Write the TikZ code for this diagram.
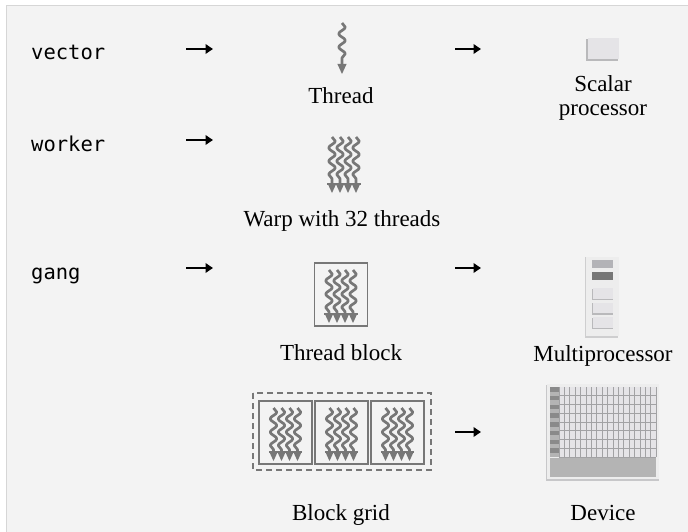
\documentclass[tikz,border=0pt]{standalone}
\usepackage{fontspec}
\setmainfont{Liberation Serif}
\newfontfamily\codefont{DejaVu Sans Mono}
\usetikzlibrary{arrows.meta,decorations.pathmorphing}
\definecolor{panel}{HTML}{F3F3F3}
\definecolor{paneledge}{HTML}{D6D6D6}
\definecolor{wavegray}{HTML}{777777}
\definecolor{procfill}{HTML}{E5E4E7}
\definecolor{procshadow}{HTML}{B9B9BB}
\definecolor{procmid}{HTML}{B3B3B7}
\definecolor{procdark}{HTML}{767676}
\definecolor{devfill}{HTML}{EDEDED}
\definecolor{devline}{HTML}{A2A2A4}
\definecolor{devband}{HTML}{B4B4B4}
\tikzset{
  code/.style={font=\codefont\fontsize{20.5}{24}\selectfont, anchor=base west, inner sep=0pt},
  lbl/.style={font=\fontsize{23}{27}\selectfont, anchor=base, inner sep=0pt},
  conn/.style={line width=2.2pt, -{Triangle[length=7.5pt,width=9.5pt]}},
  wavestroke/.style={draw=wavegray, line width=2.7pt, line join=round,
    decorate, decoration={snake, amplitude=3.3pt, segment length=13.3pt, post length=0pt}},
  boxline/.style={draw=wavegray, line width=1.5pt},
}
% one thread: wavy line from (x,y) downwards over a given length, ending in a solid head
\newcommand\threadicon[3]{%
  \pgfmathsetmacro\thx{#1}\pgfmathsetmacro\thy{#2}\pgfmathsetmacro\thl{#2+#3}%
  \draw[wavestroke] (\thx,\thy) -- (\thx,\thl);
  \fill[wavegray] (\thx-4.6,\thl) -- (\thx+4.6,\thl) -- (\thx,\thl+10) -- cycle;}
% a warp: four threads side by side
\newcommand\warpicon[3]{%
  \foreach \k in {0,1,2,3}{\threadicon{#1+8*\k-12}{#2}{#3}}
  \fill[wavegray] ({#1-16.6},{#2+#3}) rectangle ({#1+16.6},{#2+#3+2});}
% a thread block: a framed warp
\newcommand\blockicon[2]{%
  \draw[boxline] ({#1-26.5},{#2-7}) rectangle ({#1+26.5},{#2+56});
  \warpicon{#1}{#2}{43}}
\begin{document}
\begin{tikzpicture}[x=1pt,y=-1pt]
  % background panel
  \useasboundingbox (0,0) rectangle (688,532);
  \fill[white] (0,0) rectangle (688,532);
  \fill[panel] (6,5) rectangle (688,532);
  \draw[paneledge, line width=1.2pt] (6.6,532) -- (6.6,5.6) -- (688,5.6);

  % left column: keywords
  \node[code] (kvec) at (31,60) {vector};
  \node[code] (kwork) at (31,152) {worker};
  \node[code] (kgang) at (31,279) {gang};

  % arrows, first column
  \coordinate (a1s) at (186,49);  \coordinate (a1e) at (213,49);
  \coordinate (a2s) at (186,140); \coordinate (a2e) at (213,140);
  \coordinate (a3s) at (186,268); \coordinate (a3e) at (213,268);
  \draw[conn] (a1s) -- (a1e);
  \draw[conn] (a2s) -- (a2e);
  \draw[conn] (a3s) -- (a3e);

  % arrows, second column
  \coordinate (b1s) at (455,49);  \coordinate (b1e) at (481,49);
  \coordinate (b3s) at (455,268); \coordinate (b3e) at (481,268);
  \coordinate (b4s) at (455,432); \coordinate (b4e) at (481,432);
  \draw[conn] (b1s) -- (b1e);
  \draw[conn] (b3s) -- (b3e);
  \draw[conn] (b4s) -- (b4e);

  % software side
  \threadicon{342}{23}{41}
  \node[lbl] (lthread) at (341,104) {Thread};

  \warpicon{344}{137}{46}
  \node[lbl] (lwarp) at (342,226) {Warp with 32 threads};

  \blockicon{341}{270}
  \node[lbl] (lblock) at (341,360) {Thread block};

  \draw[boxline, dash pattern=on 6pt off 4pt] (253,393) rectangle (431,470);
  \blockicon{285.5}{408}
  \blockicon{341.5}{408}
  \blockicon{397.5}{408}
  \node[lbl] (lgrid) at (341,520) {Block grid};

  % hardware side: scalar processor
  \fill[procshadow] (586,39) rectangle (618,61);
  \fill[procfill] (587.5,38) rectangle (619,59);
  \node[lbl] (lscalar) at (603,92) {Scalar};
  \node[lbl] (lproc) at (603,116) {processor};

  % multiprocessor
  \fill[procshadow!70] (584.5,257) rectangle (618,338);
  \fill[devfill] (586,256.5) rectangle (618.5,336);
  \fill[procmid] (592,260) rectangle (613,268);
  \fill[procdark] (592,272) rectangle (613,280);
  \foreach \t in {288,302.5,317}{
    \fill[procshadow] (592,\t+0.5) rectangle (613,\t+12);
    \fill[procfill] (593,\t) rectangle (613,\t+10.5);
  }
  \node[lbl] (lmulti) at (603,361) {Multiprocessor};

  % device
  \fill[procshadow!80] (545.5,384.5) rectangle (659,481);
  \fill[devfill] (547,383.5) rectangle (659,479);
  \fill[procfill] (559,387) rectangle (656,457);
  \foreach \i in {0,...,7}{
    \fill[procdark!85] (550,387+8.75*\i) rectangle (559,387+8.75*\i+4.5);
    \fill[procdark!55] (550,387+8.75*\i+4.5) rectangle (559,387+8.75*\i+8.75);
  }
  \foreach \i in {0,...,18}
    \draw[devline, line width=0.6pt] (559+\i*5.389,387) -- (559+\i*5.389,457);
  \foreach \j in {1,...,8}
    \draw[devline, line width=0.8pt] (559,387+\j*8.75) -- (656,387+\j*8.75);
  \fill[devband] (550,458) rectangle (656,477);
  \node[lbl] (ldevice) at (603,520) {Device};
\end{tikzpicture}
\end{document}
